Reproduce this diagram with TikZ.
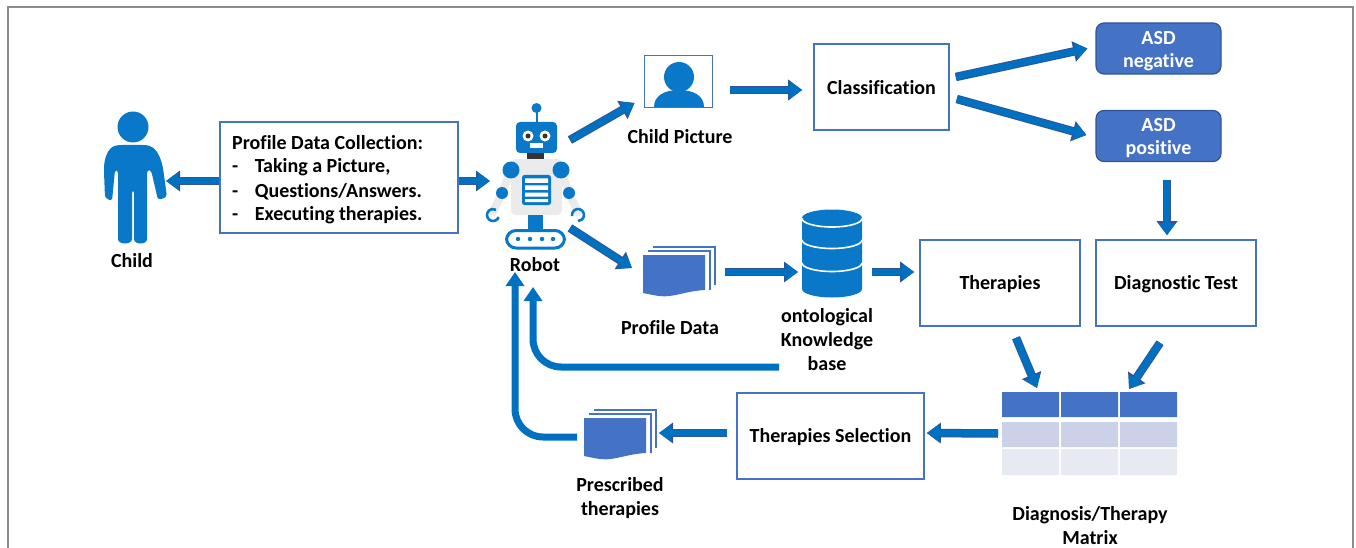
\documentclass[tikz,border=0pt]{standalone}
\usepackage{fontspec}
\setmainfont[Ligatures=NoCommon]{Carlito}
\usetikzlibrary{arrows.meta}
\definecolor{fig}{HTML}{0A78C8}
\definecolor{arrowfill}{HTML}{0070C0}
\definecolor{arrowdark}{HTML}{2F5597}
\definecolor{boxblue}{HTML}{4472C4}
\definecolor{rowb}{HTML}{CBD2E8}
\definecolor{rowc}{HTML}{E7EAF3}
\definecolor{robotgray}{HTML}{EBEBEB}
\tikzset{
  boxtxt/.style={font=\fontsize{20}{24}\selectfont\bfseries, align=center, text=black, inner sep=0pt},
  lbl/.style={boxtxt, yshift=-1pt},
  wlbl/.style={font=\fontsize{20}{23}\selectfont\bfseries, align=center, text=white},
  whitebox/.style={draw=boxblue, line width=1.6pt, fill=white, inner sep=0pt},
  asd/.style={draw=arrowdark, line width=1.2pt, fill=boxblue, rounded corners=8pt, minimum width=125pt, minimum height=51pt, inner sep=0pt},
  ghost/.style={inner sep=0pt, outer sep=0pt},
  barrow/.style={preaction={draw=arrowdark, line width=8.5pt, -{Triangle[length=14pt,width=20pt,fill=arrowdark]}},
     draw=arrowfill, line width=6.5pt, -{Triangle[length=12pt,width=16pt,fill=arrowfill]}},
  carrow/.style={draw=arrowfill, line width=7pt, rounded corners=28pt, -{Triangle[length=14pt,width=18pt,fill=arrowfill]}},
}
\newcommand\dn[1]{\raisebox{-1pt}[\height][\depth]{#1}}
\newcommand\docstack[2]{%
  \begin{scope}[shift={(#1,#2)}]
    \draw[boxblue, line width=1.6pt] (10,-8) -- (72,-8) -- (72,30);
    \draw[boxblue, line width=1.6pt] (5,-4) -- (67,-4) -- (67,35);
    \fill[boxblue] (0,0) -- (62,0) -- (62,35) .. controls (42,36) and (30,43) .. (16,41) .. controls (9,40) and (5,39) .. (0,38) -- cycle;
  \end{scope}}
\begin{document}
\begin{tikzpicture}[x=1pt,y=-1pt]
\useasboundingbox (0,0) rectangle (1356,548);
\fill[white] (0,0) rectangle (1356,548);
% frame
\draw[gray!90, line width=1.2pt] (8,548) -- (8,7) -- (1353,7) -- (1353,548);

% child figure
\node[ghost, minimum width=63pt, minimum height=132pt] (childfig) at (135.5,177) {};
\fill[fig] (133,127) circle (15.5);
\fill[fig, rounded corners=3pt] (119,145) .. controls (108,147) and (104,158) .. (104,172)
  -- (105,198) -- (112,201) -- (115,170) -- (118,170) -- (118,236)
  .. controls (118,245) and (132,245) .. (132,236) -- (132,190) -- (134,190) -- (134,236)
  .. controls (134,245) and (147,245) .. (147,236) -- (147,170) -- (151,170) -- (158,200)
  -- (167,197) -- (163,168) .. controls (160,155) and (155,147) .. (146,145) -- cycle;
\node[lbl] (childlbl) at (132,260) {Child};

% profile box
\node[whitebox, minimum width=238pt, minimum height=111pt] (prof) at (339,177.5) {};
\node[lbl, anchor=west] (p0) at (232,142) {Profile Data Collection:};
\node[lbl, anchor=west] (p1) at (232,166) {-\hspace{16.5pt}Taking a Picture,};
\node[lbl, anchor=west] (p2) at (232,190.5) {-\hspace{16.5pt}Questions/Answers.};
\node[lbl, anchor=west] (p3) at (232,214) {-\hspace{16.5pt}Executing therapies.};

% robot
\node[ghost, minimum width=97pt, minimum height=146pt] (robot) at (535.5,176) {};
\draw[robotgray, line width=8pt, line cap=round, line join=round] (511,170) -- (502,193) -- (493,212);
\draw[robotgray, line width=8pt, line cap=round, line join=round] (561,170) -- (569,193) -- (578,212);
\fill[robotgray, rounded corners=5pt] (511,159) rectangle (562,215);
\fill[fig] (536.5,108) circle (5);
\draw[fig, line width=2pt] (536.5,108) -- (536.5,124);
\fill[fig, rounded corners=4pt] (516,122) rectangle (557,153);
\fill[white] (528,136) circle (5.5) (545,136) circle (5.5);
\fill[black!80] (528,136) circle (2.5) (545,136) circle (2.5);
\fill[white] (530,143) rectangle (543,148);
\fill[black!80] (527,153) rectangle (544,159);
\fill[fig] (511,170) circle (8.5) (561,170) circle (8.5);
\fill[fig] (502,193) circle (6) (569,193) circle (6);
\draw[fig, line width=2.6pt] (493,215) ++(20:6) arc (20:300:6);
\draw[fig, line width=2.6pt] (578,215) ++(170:6) arc (170:450:6);
\fill[fig, rounded corners=2.5pt] (522,175) rectangle (551,205);
\fill[white] (525,178.5) rectangle (548,183) (525,185.5) rectangle (548,190) (525,192.5) rectangle (548,196.5) (525,199) rectangle (548,202);
\fill[fig] (528,215) rectangle (543,230);
\draw[fig, line width=3pt, fill=white, rounded corners=9.5pt] (506.5,230.5) rectangle (564.5,248);
\fill[fig] (518,239) circle (2.2) (530,239) circle (2.2) (542,239) circle (2.2) (553,239) circle (2.2);
\node[lbl] (robotlbl) at (535,264) {Robot};

% child picture
\node[draw=boxblue, line width=0.9pt, fill=white, minimum width=68pt, minimum height=52pt, inner sep=0pt] (picbox) at (678,81) {};
\fill[fig] (679,77) circle (15);
\fill[fig] (654,107) .. controls (654,96) and (664,90) .. (679,90) .. controls (694,90) and (704,96) .. (704,107) -- cycle;
\node[lbl] (piclbl) at (680,136) {Child Picture};

% classification
\node[whitebox, boxtxt, minimum width=135pt, minimum height=86pt] (cls) at (881.5,87) {\dn{Classification}};

% ASD
\node[asd] (neg) at (1158.5,48.5) {};
\node[wlbl] (negt) at (1158.5,51) {ASD\\negative};
\node[asd] (pos) at (1158.5,136) {};
\node[wlbl] (post) at (1158.5,138) {ASD\\positive};

% profile data docs
\node[ghost, minimum width=72pt, minimum height=48pt] (docp) at (679,271) {};
\docstack{643}{255}
\node[lbl] (docplbl) at (670,327) {Profile Data};

% database
\node[ghost, minimum width=60pt, minimum height=87pt] (db) at (832,253.5) {};
\fill[fig] (802,218) arc (180:360:30 and 8.5) -- (862,289) arc (0:180:30 and 8.5) -- cycle;
\draw[white, line width=1.6pt] (802,218.5) arc (180:0:30 and 8.5);
\draw[white, line width=1.6pt] (802,240) arc (180:0:30 and 8.5);
\draw[white, line width=1.6pt] (802,263) arc (180:0:30 and 8.5);
\node[lbl, text width=110pt] (kbtext) at (827,339) {ontological\\Knowledge\\base};

% therapies, diagnostic
\node[whitebox, boxtxt, minimum width=160pt, minimum height=86pt] (ther) at (1000,283) {\dn{Therapies}};
\node[whitebox, boxtxt, minimum width=160pt, minimum height=86pt] (diag) at (1176,283) {\dn{Diagnostic Test}};

% matrix
\node[ghost, minimum width=175pt, minimum height=83pt] (matrix) at (1089.5,433.5) {};
\fill[boxblue] (1002,392) rectangle (1059,417) (1061,392) rectangle (1118,417) (1120,392) rectangle (1177,417);
\fill[rowb] (1002,422) rectangle (1059,447) (1061,422) rectangle (1118,447) (1120,422) rectangle (1177,447);
\fill[rowc] (1002,449) rectangle (1059,475) (1061,449) rectangle (1118,475) (1120,449) rectangle (1177,475);
\node[lbl] (matlbl) at (1090,525) {Diagnosis/Therapy\\Matrix};

% selection
\node[whitebox, boxtxt, minimum width=187pt, minimum height=86pt] (sel) at (830.5,436) {\dn{Therapies Selection}};

% prescribed docs
\node[ghost, minimum width=72pt, minimum height=48pt] (presc) at (620,434) {};
\docstack{584}{418}
\node[lbl] (presclbl) at (620,497) {Prescribed\\therapies};

% connectors
\draw[barrow] ([yshift=-3.5pt]prof.west) -- ([xshift=-1pt,yshift=-4pt]childfig.east);
\draw[barrow] ([yshift=-3.5pt]prof.east) -- ([xshift=3pt,yshift=-5pt]robot.west);
\draw[barrow] ([xshift=-14pt,yshift=36pt]robot.east) -- ([xshift=-9pt,yshift=-22pt]picbox.west);
\draw[barrow] ([xshift=18pt,yshift=-9pt]picbox.east) -- ([xshift=-11pt,yshift=-3pt]cls.west);
\draw[barrow] ([xshift=6pt,yshift=10pt]cls.east) -- ([xshift=-8pt]neg.west);
\draw[barrow] ([xshift=7pt,yshift=-12pt]cls.east) -- ([xshift=-9pt,yshift=1pt]pos.west);
\draw[barrow] ([xshift=8.5pt,yshift=-18pt]pos.south) -- ([xshift=-9pt,yshift=4pt]diag.north);
\draw[barrow] ([xshift=-14pt,yshift=21pt]robot.south east) -- ([xshift=-11pt,yshift=3pt]docp.west);
\draw[barrow] ([xshift=10pt,yshift=-1pt]docp.east) -- ([xshift=-4pt,yshift=-18.5pt]db.west);
\draw[barrow] ([xshift=10pt,yshift=-18.5pt]db.east) -- ([xshift=-5pt,yshift=11pt]ther.west);
\draw[barrow] ([xshift=16pt,yshift=-11pt]ther.south) -- ([xshift=-52.5pt,yshift=4pt]matrix.north);
\draw[barrow] ([xshift=-16pt,yshift=-16pt]diag.south) -- ([xshift=39.5pt,yshift=3pt]matrix.north);
\draw[barrow] ([xshift=-4pt]matrix.west) -- ([xshift=2pt,yshift=3pt]sel.east);
\draw[barrow] ([xshift=-9pt,yshift=3pt]sel.west) -- ([xshift=3pt,yshift=1pt]presc.east);
\draw[carrow] ([xshift=-7pt,yshift=-3pt]presc.west) -| ([xshift=-20.5pt,yshift=-23pt]robot.south);
\draw[carrow] ([xshift=-23pt,yshift=-70pt]db.south west) -| ([xshift=-2.5pt,yshift=-38pt]robot.south);
\end{tikzpicture}
\end{document}
